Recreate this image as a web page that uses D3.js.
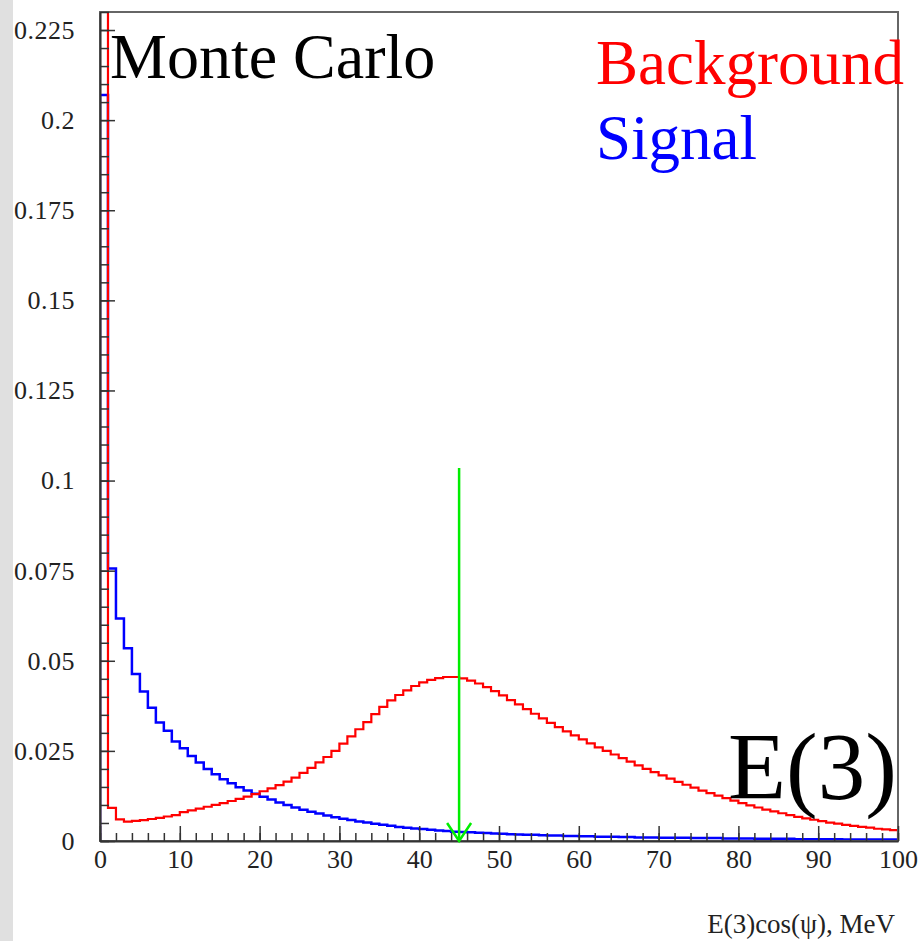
<!DOCTYPE html>
<html lang="en">
<head>
<meta charset="utf-8">
<title>E(3)cos(psi)</title>
<script src="https://cdn.jsdelivr.net/npm/d3@7"></script>
<style>
body { margin: 0; background: #fff; }
svg text { font-family: "Liberation Serif", "Times New Roman", serif; }
</style>
</head>
<body>
<script>
// 100 bins of 1 MeV each, 0..100
var background = [
0.5, 0.0092, 0.0060, 0.0054, 0.0056, 0.0058, 0.0061, 0.0064, 0.0068, 0.0072,
0.0080, 0.0085, 0.0090, 0.0095, 0.0100, 0.0105, 0.0111, 0.0117, 0.0123, 0.0130,
0.0138, 0.0146, 0.0155, 0.0165, 0.0176, 0.0189, 0.0203, 0.0218, 0.0233, 0.0250,
0.0270, 0.0290, 0.0310, 0.0330, 0.0352, 0.0372, 0.0390, 0.0405, 0.0418, 0.0430,
0.0440, 0.0447, 0.0452, 0.0455, 0.0455, 0.0451, 0.0445, 0.0437, 0.0427, 0.0416,
0.0404, 0.0391, 0.0379, 0.0366, 0.0353, 0.0340, 0.0328, 0.0316, 0.0304, 0.0293,
0.0282, 0.0271, 0.0260, 0.0250, 0.0240, 0.0230, 0.0220, 0.0210, 0.0200, 0.0191,
0.0182, 0.0173, 0.0164, 0.0156, 0.0148, 0.0140, 0.0133, 0.0126, 0.0119, 0.0112,
0.0105, 0.0099, 0.0093, 0.0087, 0.0082, 0.0077, 0.0072, 0.0067, 0.0063, 0.0059,
0.0055, 0.0051, 0.0048, 0.0045, 0.0042, 0.0039, 0.0037, 0.0034, 0.0032, 0.0030
];
var signal = [
0.207, 0.0756, 0.0617, 0.0535, 0.0463, 0.0415, 0.0370, 0.0329, 0.0306, 0.0276,
0.0257, 0.0236, 0.0218, 0.0200, 0.0185, 0.0171, 0.0160, 0.0149, 0.0140, 0.0131,
0.0123, 0.0115, 0.0107, 0.0100, 0.0093, 0.0087, 0.0081, 0.0076, 0.0071, 0.0066,
0.0062, 0.0058, 0.0054, 0.0051, 0.0048, 0.0045, 0.0042, 0.0039, 0.0037, 0.0035,
0.0033, 0.0031, 0.0029, 0.0028, 0.0026, 0.0025, 0.0024, 0.0023, 0.0022, 0.0021,
0.0020, 0.0019, 0.0018, 0.0017, 0.0017, 0.0016, 0.0015, 0.0015, 0.0014, 0.0014,
0.0013, 0.0013, 0.0012, 0.0012, 0.0012, 0.0011, 0.0011, 0.0010, 0.0010, 0.0010,
0.0009, 0.0009, 0.0009, 0.0009, 0.0008, 0.0008, 0.0008, 0.0008, 0.0007, 0.0007,
0.0007, 0.0007, 0.0006, 0.0006, 0.0006, 0.0006, 0.0006, 0.0005, 0.0005, 0.0005,
0.0005, 0.0005, 0.0005, 0.0004, 0.0004, 0.0004, 0.0004, 0.0004, 0.0004, 0.0004
];
var xTicks = [0, 10, 20, 30, 40, 50, 60, 70, 80, 90, 100];
var yTicks = [0, 0.025, 0.05, 0.075, 0.1, 0.125, 0.15, 0.175, 0.2, 0.225];
var yLabels = ["0", "0.025", "0.05", "0.075", "0.1", "0.125", "0.15", "0.175", "0.2", "0.225"];
var cutValue = 45;
var cutTop = 0.1035;

var svg = d3.select("body").append("svg")
    .attr("width", 924)
    .attr("height", 941);

// grey strip on the left
svg.append("rect").attr("x", 0).attr("y", 0).attr("width", 13).attr("height", 941).attr("fill", "#e0e0e0");

var x = d3.scaleLinear().domain([0, 100]).range([100, 898]);
var y = d3.scaleLinear().domain([0, 0.23]).range([841, 12]);

svg.append("defs").append("clipPath").attr("id", "frame")
  .append("rect").attr("x", 100).attr("y", 12).attr("width", 798).attr("height", 829);

function histPath(vals) {
  var pts = [[0, 0]];
  vals.forEach(function(v, i) {
    pts.push([i, v]);
    pts.push([i + 1, v]);
  });
  pts.push([vals.length, 0]);
  return d3.line().x(function(d) { return x(d[0]); }).y(function(d) { return y(d[1]); })(pts);
}

var plot = svg.append("g").attr("clip-path", "url(#frame)");

plot.append("path").attr("d", histPath(signal))
  .attr("fill", "none").attr("stroke", "#0000ff").attr("stroke-width", 2.5);
plot.append("path").attr("d", histPath(background))
  .attr("fill", "none").attr("stroke", "#ff0000").attr("stroke-width", 2.2);

// frame
svg.append("rect").attr("x", 100).attr("y", 12).attr("width", 798).attr("height", 829)
  .attr("fill", "none").attr("stroke", "#666").attr("stroke-width", 2);

// y axis
var yMinor = d3.range(0, 0.2301, 0.005);
svg.append("g").attr("transform", "translate(100,0)")
  .call(d3.axisLeft(y).tickValues(yMinor).tickSize(-9).tickFormat(""))
  .call(function(g) { g.select(".domain").remove(); });
svg.append("g").attr("transform", "translate(100,0)")
  .call(d3.axisLeft(y).tickValues(yTicks).tickSizeInner(-15).tickSizeOuter(0).tickPadding(25)
    .tickFormat(function(d, i) { return yLabels[i]; }))
  .call(function(g) {
    g.select(".domain").attr("stroke", "#333").attr("stroke-width", 2);
    g.selectAll("text").attr("font-size", 26).attr("fill", "#222")
      .attr("letter-spacing", 0.5)
      .style("font-family", "Liberation Serif");
  });

// x axis
var xMinor = d3.range(0, 100.1, 2);
svg.append("g").attr("transform", "translate(0,841)")
  .call(d3.axisBottom(x).tickValues(xMinor).tickSize(-8).tickFormat(""))
  .call(function(g) { g.select(".domain").remove(); });
svg.append("g").attr("transform", "translate(0,841)")
  .call(d3.axisBottom(x).tickValues(xTicks).tickSizeInner(-15).tickSizeOuter(0).tickPadding(9)
    .tickFormat(d3.format("d")))
  .call(function(g) {
    g.select(".domain").attr("stroke", "#333").attr("stroke-width", 2);
    g.selectAll("text").attr("font-size", 26).attr("fill", "#222")
      .style("font-family", "Liberation Serif");
  });
svg.selectAll(".tick line").attr("stroke", "#333").attr("stroke-width", 1.5);

// x axis title
svg.append("text").attr("x", 895).attr("y", 933).attr("text-anchor", "end")
  .attr("font-size", 27).attr("fill", "#222").text("E(3)cos(\u03c8), MeV");

// cut arrow
var arrow = svg.append("g").attr("stroke", "#00ee00").attr("stroke-width", 2.5).attr("fill", "none");
arrow.append("line").attr("x1", x(cutValue)).attr("x2", x(cutValue)).attr("y1", y(cutTop)).attr("y2", y(0));
arrow.append("path").attr("d", "M" + (x(cutValue) - 12) + "," + (y(0) - 18) + "L" + x(cutValue) + "," + y(0) + "L" + (x(cutValue) + 12) + "," + (y(0) - 18));

// labels
svg.append("text").attr("x", 110).attr("y", 78).attr("font-size", 64).attr("fill", "#000").text("Monte Carlo");
svg.append("text").attr("x", 596).attr("y", 84).attr("font-size", 63).attr("fill", "#ff0000").text("Background");
svg.append("text").attr("x", 596).attr("y", 159).attr("font-size", 63).attr("fill", "#0000ff").text("Signal");
svg.append("text").attr("x", 728).attr("y", 799).attr("font-size", 95).attr("fill", "#000").text("E(3)");
</script>
</body>
</html>
